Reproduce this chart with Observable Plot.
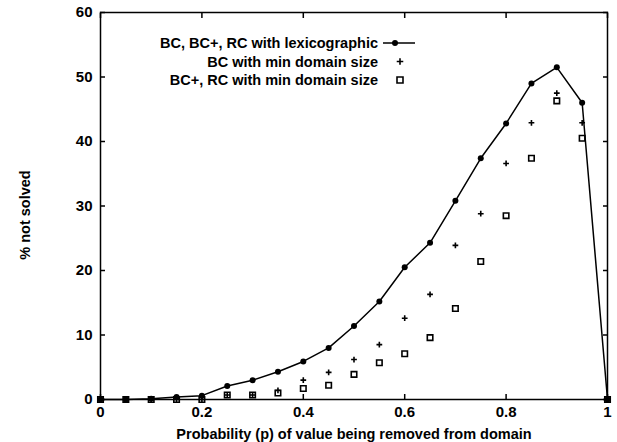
<!DOCTYPE html>
<html>
<head>
<meta charset="utf-8">
<script src="https://cdn.jsdelivr.net/npm/d3@7"></script>
<script src="https://cdn.jsdelivr.net/npm/@observablehq/plot@0.6"></script>
<style>
  html, body { margin: 0; padding: 0; background: white; }
</style>
</head>
<body>
<div id="chart"></div>
<script>
// probability values (x)
const probs = [0, 0.05, 0.1, 0.15, 0.2, 0.25, 0.3, 0.35, 0.4, 0.45, 0.5, 0.55, 0.6, 0.65, 0.7, 0.75, 0.8, 0.85, 0.9, 0.95, 1.0];
// BC, BC+, RC with lexicographic
const lexValues = [0, 0, 0.1, 0.4, 0.6, 2.1, 3.0, 4.3, 5.9, 8.0, 11.4, 15.2, 20.5, 24.3, 30.8, 37.4, 42.8, 49.0, 51.5, 46.0, 0];
// BC with min domain size
const bcMinValues = [0, 0, 0, 0, 0, 0.7, 0.7, 1.4, 3.0, 4.2, 6.2, 8.5, 12.6, 16.3, 23.9, 28.8, 36.6, 42.9, 47.5, 42.9, 0];
// BC+, RC with min domain size
const bcPlusMinValues = [0, 0, 0, 0, 0, 0.7, 0.7, 1.0, 1.7, 2.2, 3.9, 5.7, 7.1, 9.6, 14.1, 21.4, 28.5, 37.4, 46.3, 40.5, 0];

const seriesNames = ["BC, BC+, RC with lexicographic", "BC with min domain size", "BC+, RC with min domain size"];
const xTicks = [0, 0.2, 0.4, 0.6, 0.8, 1];
const xTickLabels = ["0", "0.2", "0.4", "0.6", "0.8", "1"];
const yTicks = [0, 10, 20, 30, 40, 50, 60];
const xLabel = "Probability (p) of value being removed from domain";
const yLabel = "% not solved";

const lexData = probs.map((p, i) => ({p, v: lexValues[i]}));
const bcData = probs.map((p, i) => ({p, v: bcMinValues[i]}));
const bcpData = probs.map((p, i) => ({p, v: bcPlusMinValues[i]}));

const font = "'Liberation Sans', Arial, Helvetica, sans-serif";

const svg = Plot.plot({
  width: 617,
  height: 442,
  marginLeft: 100,
  marginRight: 10,
  marginTop: 12,
  marginBottom: 43,
  style: {fontFamily: font, fontSize: "15px", fontWeight: "bold", background: "white", color: "black", overflow: "visible"},
  x: {domain: [0, 1]},
  y: {domain: [0, 60]},
  marks: [
    Plot.frame({stroke: "black", strokeWidth: 1.5}),
    // inward ticks on all four sides
    Plot.axisX({ticks: xTicks, anchor: "bottom", text: null, tickSize: 5, dy: -5, strokeWidth: 1.5, label: null}),
    Plot.axisX({ticks: xTicks, anchor: "top", text: null, tickSize: 5, dy: 5, strokeWidth: 1.5, label: null}),
    Plot.axisY({ticks: yTicks, anchor: "left", text: null, tickSize: 5, dx: 5, strokeWidth: 1.5, label: null}),
    Plot.axisY({ticks: yTicks, anchor: "right", text: null, tickSize: 5, dx: -5, strokeWidth: 1.5, label: null}),
    // tick labels and x label
    Plot.axisX({ticks: xTicks, anchor: "bottom", tickSize: 0, tickPadding: 7,
      tickFormat: (d) => xTickLabels[xTicks.indexOf(d)], fontSize: 15,
      label: null}),
    Plot.axisX({ticks: [], anchor: "bottom", tickSize: 0,
      label: xLabel, labelAnchor: "center", labelArrow: "none", labelOffset: 39, fontSize: 14.5}),
    Plot.axisY({ticks: yTicks, anchor: "left", tickSize: 0, tickPadding: 8, fontSize: 15, label: null}),
    // data
    Plot.line(lexData, {x: "p", y: "v", stroke: "black", strokeWidth: 1.5}),
    Plot.dot(lexData, {x: "p", y: "v", r: 3, fill: "black", symbol: "circle"}),
    Plot.dot(bcData, {x: "p", y: "v", r: 2, stroke: "black", strokeWidth: 1.6, symbol: "plus"}),
    Plot.dot(bcpData, {x: "p", y: "v", r: 3.1, stroke: "black", strokeWidth: 1.6, symbol: "square", fill: "none"})
  ]
});

const root = d3.select(svg);
// y axis label
root.append("text")
  .attr("transform", "translate(25,215) rotate(-90)")
  .attr("text-anchor", "middle").attr("dy", "0.35em")
  .attr("font-family", font).attr("font-size", 14.5).attr("font-weight", "bold").attr("fill", "black")
  .text(yLabel);

// legend (gnuplot-style key inside the plot)
const g = root.append("g").attr("font-family", font).attr("font-size", 14.5).attr("font-weight", "bold");
const keyX = 378, sampleX1 = 383, sampleX2 = 415, keyY0 = 43, keyStep = 18.5;
seriesNames.forEach((name, i) => {
  const y = keyY0 + i * keyStep;
  g.append("text").attr("x", keyX).attr("y", y).attr("dy", "0.35em").attr("text-anchor", "end").attr("fill", "black").text(name);
});
g.append("line").attr("x1", sampleX1).attr("x2", sampleX2).attr("y1", keyY0).attr("y2", keyY0).attr("stroke", "black").attr("stroke-width", 1.5);
g.append("circle").attr("cx", 395).attr("cy", keyY0).attr("r", 3).attr("fill", "black");
g.append("path").attr("d", d3.symbol(d3.symbolPlus, 16)()).attr("transform", `translate(${400},${keyY0 + keyStep})`).attr("fill", "none").attr("stroke", "black").attr("stroke-width", 1.6);
g.append("path").attr("d", d3.symbol(d3.symbolSquare, 36)()).attr("transform", `translate(${400},${keyY0 + 2 * keyStep})`).attr("fill", "none").attr("stroke", "black").attr("stroke-width", 1.6);

document.getElementById("chart").appendChild(svg);
</script>
</body>
</html>
